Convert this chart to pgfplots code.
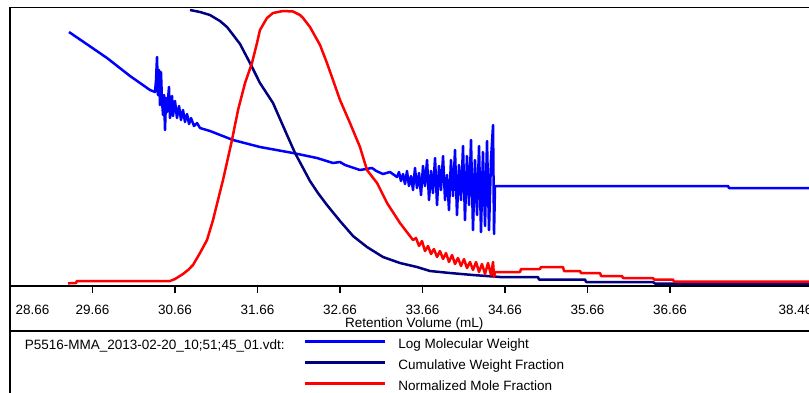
\documentclass[border=0pt]{standalone}
\usepackage{fontspec}
\setmainfont{Liberation Sans}
\usepackage{pgfplots}
\pgfplotsset{compat=1.18}
\definecolor{lmw}{RGB}{0,0,255}
\definecolor{cwf}{RGB}{0,0,128}
\definecolor{nmf}{RGB}{255,0,0}
\newcommand{\lbl}{\fontsize{13.5}{16}\selectfont}
\begin{document}
\begin{tikzpicture}
\begin{axis}[
  name=ax,
  at={(10pt,-286pt)}, anchor=south west,
  scale only axis, width=808.5pt, height=278.5pt,
  xmin=28.66, xmax=38.46, ymin=0, ymax=278.5,
  axis line style={line width=1.8pt},
  xtick={29.66,30.66,31.66,32.66,33.66,34.66,35.66,36.66},
  xticklabels={29.66,30.66,31.66,32.66,33.66,34.66,35.66,36.66},
  xtick pos=bottom, ytick=\empty,
  tick align=outside, major tick length=7pt,
  every tick/.style={line width=1.6pt, black},
  xticklabel style={font=\lbl, anchor=base, yshift=-21pt},
  xlabel={Retention Volume (mL)},
  xlabel style={font=\lbl, at={(rel axis cs:0.5,0)}, anchor=base, yshift=-41pt},
  legend style={at={(rel axis cs:0.3636,-0.19)}, anchor=north west,
    draw=none, fill=none, inner sep=0pt, outer sep=0pt, font=\lbl,
    row sep=8pt, nodes={inner sep=0pt, text height=10pt, text depth=3pt}},
  legend cell align=left,
  legend image code/.code={\draw[#1] (0pt,4pt) -- (80pt,4pt); \path (92pt,0pt);},
  every axis plot/.append style={line width=2.5pt, line join=round, mark=none},
]
\addplot[lmw] coordinates {
(29.375,254) (29.606,241) (29.836,228) (30.115,210) (30.357,196) (30.418,194)
(30.430,206) (30.442,229) (30.454,191) (30.466,216) (30.478,181) (30.490,214) (30.502,186) (30.515,171) (30.527,191) (30.539,156) (30.551,188) (30.563,174) (30.587,199) (30.599,168) (30.624,190) (30.636,170) (30.660,185) (30.684,168) (30.709,180) (30.733,166) (30.757,176) (30.781,164) (30.806,172) (30.830,162) (30.854,168) (30.890,160) (30.927,163) (30.963,158)
(31.084,155) (31.363,146) (31.690,139) (32.090,133) (32.381,128) (32.575,123) (32.660,124) (32.721,121) (32.902,116) (33.048,118) (33.100,115) (33.181,112) (33.266,114) (33.351,109)
(33.375,114) (33.399,105) (33.424,112) (33.448,102) (33.472,115) (33.496,100) (33.521,110) (33.545,96) (33.569,118) (33.593,98) (33.618,113) (33.642,91) (33.666,120) (33.690,100) (33.715,126) (33.739,86) (33.763,115) (33.787,93) (33.812,128) (33.836,81) (33.860,120) (33.884,96) (33.909,130) (33.933,86) (33.957,111) (33.981,76) (34.005,126) (34.030,90) (34.054,136) (34.078,71) (34.102,121) (34.127,86) (34.151,140) (34.175,66) (34.199,130) (34.224,81) (34.248,146) (34.272,56) (34.296,126) (34.321,71) (34.345,140) (34.369,54) (34.393,134) (34.418,60) (34.442,145) (34.466,56) (34.490,126) (34.515,161) (34.527,52) (34.539,100) (37.363,100) (37.375,98) (38.46,98)
};
\addlegendentry{Log Molecular Weight}
\addplot[cwf] coordinates {
(30.842,276) (30.963,274) (31.084,271) (31.205,265) (31.290,259) (31.375,250) (31.448,242) (31.569,223) (31.690,203) (31.848,183) (32.018,151) (32.115,133) (32.212,118) (32.296,105) (32.393,93) (32.502,81) (32.660,65) (32.818,50) (32.987,39) (33.181,29) (33.387,23) (33.593,19) (33.751,15) (33.993,13) (34.272,11) (34.599,9) (35.060,9) (35.072,6.5) (35.630,6.5) (35.642,4) (36.454,4) (36.478,2.5) (38.46,2.5)
};
\addlegendentry{Cumulative Weight Fraction}
\addplot[nmf] coordinates {
(29.363,2.7) (29.460,3) (29.472,5) (30.599,5) (30.660,7) (30.757,12) (30.818,16) (30.878,21) (30.963,33) (31.048,46) (31.121,66) (31.181,86) (31.242,106) (31.302,128) (31.351,146) (31.424,176) (31.509,203) (31.593,223) (31.654,243) (31.690,256) (31.775,268) (31.848,273) (31.969,275) (32.090,274.5) (32.175,271) (32.212,268) (32.296,259) (32.418,241) (32.502,223) (32.575,206) (32.660,186) (32.781,163) (32.902,139) (32.987,116) (33.109,103) (33.230,83) (33.387,63) (33.545,46)
(33.581,48) (33.618,40) (33.654,45) (33.690,35) (33.727,40) (33.763,32) (33.799,37) (33.836,29) (33.872,35) (33.909,27) (33.945,33) (33.981,24) (34.018,31) (34.054,22) (34.090,28) (34.127,20) (34.163,27) (34.199,18) (34.236,24) (34.272,16) (34.309,24) (34.345,14) (34.381,22) (34.418,12) (34.454,23) (34.490,11) (34.515,24) (34.527,9)
(34.539,14) (34.842,14) (34.854,17) (35.084,17) (35.096,19) (35.363,19) (35.375,15) (35.569,15) (35.581,13) (35.812,13) (35.824,10) (36.078,10) (36.090,8) (36.454,8) (36.466,6.5) (36.696,6.5) (36.708,4.5) (38.46,4.5)
};
\addlegendentry{Normalized Mole Fraction}
\end{axis}
\node[font=\lbl, anchor=base west, inner sep=0pt] at ([xshift=5.5pt,yshift=-28pt]ax.south west) {28.66};
\node[font=\lbl, anchor=base east, inner sep=0pt] at ([xshift=-6pt,yshift=-28pt]ax.south east) {38.46};
\node[font=\lbl, anchor=base west, inner sep=0pt] at ([xshift=14.7pt,yshift=-63.5pt]ax.south west) {P5516-MMA\_2013-02-20\_10;51;45\_01.vdt:};
\draw[line width=1.8pt] (10pt,-286pt) -- (10pt,-400pt);
\draw[line width=1.8pt] (9.1pt,-331pt) -- (830pt,-331pt);
\pgfresetboundingbox
\useasboundingbox (0pt,0pt) rectangle (809pt,-392pt);
\end{tikzpicture}
\end{document}
